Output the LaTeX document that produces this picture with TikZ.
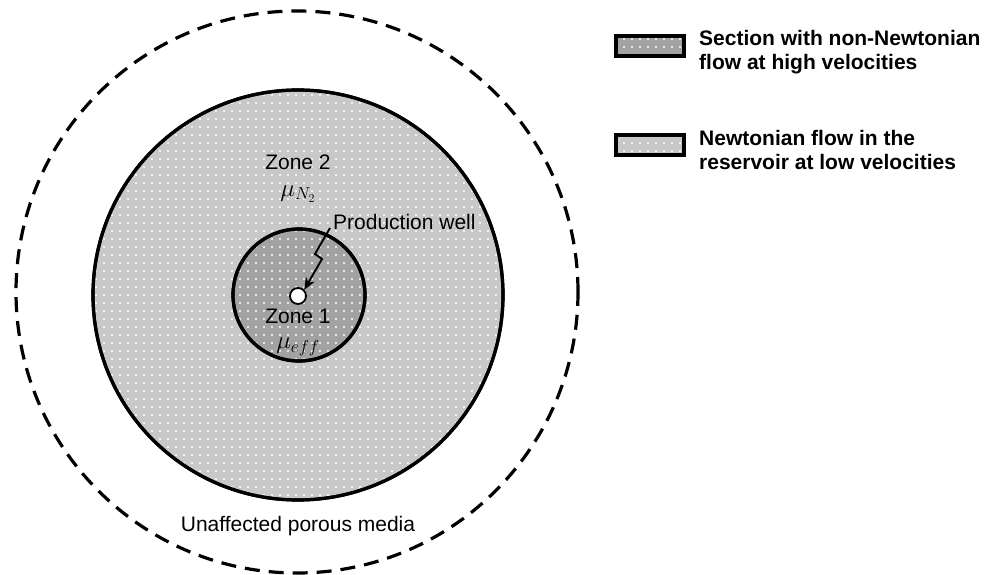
\documentclass[tikz,border=0pt]{standalone}
\usepackage{fontspec}
\setmainfont{Liberation Sans}
\usetikzlibrary{patterns.meta,arrows.meta}
\definecolor{zoneonegray}{HTML}{A2A2A2}
\definecolor{zonetwogray}{HTML}{C8C8C8}
\tikzset{
  dotfill/.style={pattern={Dots[distance=8pt,radius=1.1pt]},pattern color=white},
  zoneone/.style={circle,draw=black,line width=3.2pt,fill=zoneonegray,inner sep=0pt},
  zonetwo/.style={circle,draw=black,line width=3.2pt,fill=zonetwogray,inner sep=0pt},
  outerzone/.style={circle,draw=black,line width=3.2pt,dash pattern=on 15pt off 9pt,inner sep=0pt},
  wellnode/.style={circle,draw=black,line width=1.8pt,fill=white,inner sep=0pt,minimum size=16pt},
  lbl/.style={font=\fontsize{21}{24}\selectfont,inner sep=0pt},
  mathlbl/.style={font=\fontsize{23}{26}\selectfont,inner sep=0pt},
  legtxt/.style={font=\fontsize{21}{24.5}\selectfont\bfseries,align=left,anchor=west,inner sep=0pt},
  legbox/.style={draw=black,line width=3.2pt,minimum width=68pt,minimum height=20pt,inner sep=0pt},
}
\begin{document}
\begin{tikzpicture}[x=1pt,y=-1pt]
\useasboundingbox (0,0) rectangle (989,575);
% outer dashed circle
\node[outerzone,minimum size=562pt] (outer) at (297,292) {};
% zone 2
\node[zonetwo,minimum size=410pt] (z2) at (298,295) {};
\fill[dotfill] (298,295) circle (203);
% zone 1
\node[zoneone,minimum size=132pt] (z1) at (299,295) {};
\fill[dotfill] (299,295) circle (64);
\draw[black,line width=3.2pt] (299,295) circle (66);
\draw[black,line width=3.2pt] (298,295) circle (205);
% well
\node[wellnode] (well) at (298,296) {};
% labels
\node[lbl] (zone2) at (298,162) {Zone 2};
\node[mathlbl] (mu2) at (298,194) {$\mu_{N_2}$};
\node[lbl,anchor=west] (prod) at (333,222) {Production well};
\node[lbl] (zone1) at (298,316) {Zone 1};
\node[mathlbl] (mu1) at (298,347) {$\mu_{eff}$};
\node[lbl] (unaff) at (298,526) {Unaffected porous media};
% lightning arrow
\coordinate (la) at (330,228);
\coordinate (lb) at (315,254);
\coordinate (lc) at (322,259);
\draw[line width=1.9pt,-{Stealth[length=12pt,width=10pt]}] (la) -- (lb) -- (lc) -- (well.north east);
% legend
\node[legbox,fill=zoneonegray] (box1) at (650,46) {};
\fill[dotfill] (617,37) rectangle (683,55);
\node[legbox] at (650,46) {};
\node[legtxt] (leg1) at (699,52) {Section with non-Newtonian\\flow at high velocities};
\node[legbox,fill=zonetwogray] (box2) at (650,145) {};
\fill[dotfill] (617,136) rectangle (683,154);
\node[legbox] at (650,145) {};
\node[legtxt] (leg2) at (699,150) {Newtonian flow in the\\reservoir at low velocities};
\end{tikzpicture}
\end{document}
